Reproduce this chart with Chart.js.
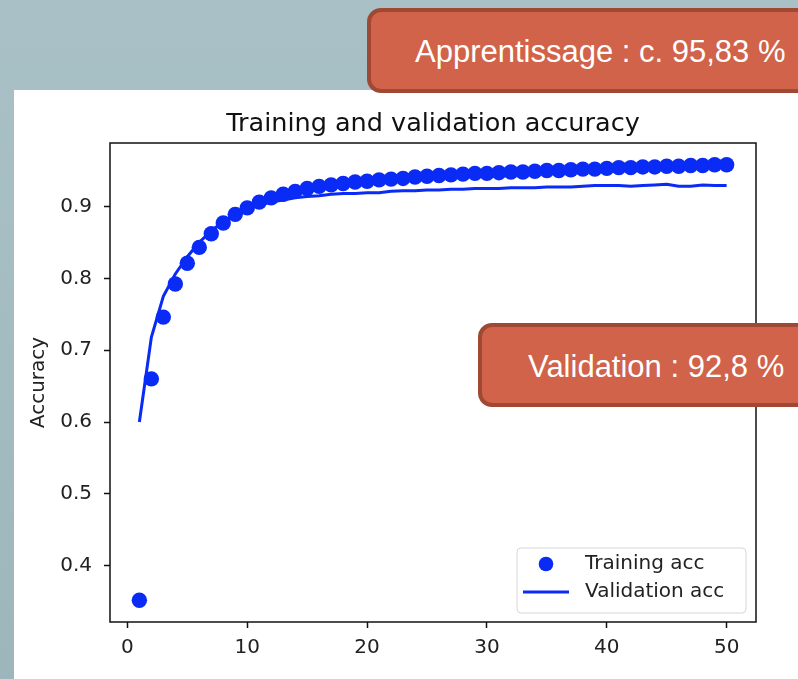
<!DOCTYPE html>
<html>
<head>
<meta charset="utf-8">
<script src="https://cdn.jsdelivr.net/npm/chart.js@4"></script>
<style>
  html, body { margin: 0; padding: 0; }
  body { width: 798px; height: 679px; overflow: hidden; position: relative;
         background: linear-gradient(180deg, #a9c1c6 0%, #a2bbc1 60%, #9db6bc 100%); }
  #panel { position: absolute; left: 14px; top: 90px; width: 800px; height: 600px; background: #fff; }
  #canvas { position: absolute; left: 0; top: 0; }
  .callout { position: absolute; box-sizing: border-box; background: #d0634a; border: 4px solid #9f4834;
             border-radius: 14px; color: #fff; font-family: 'Liberation Sans', Arial, sans-serif;
             font-size: 31px; display: flex; align-items: center; padding-top: 3px; white-space: nowrap; }
  #c1 { left: 367px; top: 8px; width: 460px; height: 85px; padding-left: 44px; }
  #c2 { left: 478px; top: 323px; width: 350px; height: 84px; padding-left: 46px; }
</style>
</head>
<body>
<div id="panel"></div>
<canvas id="canvas" width="798" height="679"></canvas>
<div class="callout" id="c1">Apprentissage : c. 95,83 %</div>
<div class="callout" id="c2">Validation : 92,8 %</div>
<script>
// accuracy per epoch
const epochs = [];
for (let i = 1; i <= 50; i++) epochs.push(i);

const trainAcc = [0.352, 0.660, 0.746, 0.792, 0.821, 0.843, 0.862, 0.877, 0.889, 0.898,
                  0.906, 0.912, 0.917, 0.921, 0.925, 0.928, 0.930, 0.932, 0.934, 0.935,
                  0.937, 0.938, 0.939, 0.941, 0.942, 0.943, 0.944, 0.945, 0.946, 0.946,
                  0.947, 0.948, 0.948, 0.949, 0.950, 0.950, 0.951, 0.952, 0.952, 0.953,
                  0.954, 0.954, 0.955, 0.955, 0.956, 0.956, 0.957, 0.957, 0.958, 0.958];

const valAcc = [0.600, 0.718, 0.775, 0.806, 0.830, 0.850, 0.866, 0.879, 0.889, 0.896,
                0.902, 0.906, 0.909, 0.912, 0.914, 0.915, 0.917, 0.918, 0.918, 0.919,
                0.919, 0.921, 0.922, 0.922, 0.923, 0.923, 0.924, 0.924, 0.925, 0.925,
                0.925, 0.926, 0.926, 0.926, 0.927, 0.927, 0.927, 0.928, 0.929, 0.929,
                0.929, 0.928, 0.929, 0.930, 0.931, 0.928, 0.928, 0.930, 0.929, 0.929];

const xTicks = [0, 10, 20, 30, 40, 50];
const yTicks = [0.4, 0.5, 0.6, 0.7, 0.8, 0.9];
const chartTitle = 'Training and validation accuracy';

const BLUE = '#0a2af5';
const FONT = 'DejaVu Sans';

// title centred on the axes, box around the plot + matplotlib style legend
const frame = {
  id: 'frame',
  afterDatasetsDraw(chart) {
    const ctx = chart.ctx, a = chart.chartArea;
    ctx.save();
    ctx.fillStyle = '#111';
    ctx.font = '25.5px ' + FONT;
    ctx.textAlign = 'center';
    ctx.textBaseline = 'alphabetic';
    ctx.fillText(chartTitle, (a.left + a.right) / 2, a.top - 12);
    ctx.textAlign = 'left';

    ctx.strokeStyle = '#111';
    ctx.lineWidth = 1.5;
    ctx.strokeRect(a.left, a.top, a.right - a.left, a.bottom - a.top);

    const w = 229, h = 65;
    const x = a.right - 10 - w, y = a.bottom - 9 - h;
    ctx.fillStyle = 'rgba(255,255,255,0.85)';
    ctx.strokeStyle = '#d6d6d6';
    ctx.lineWidth = 1;
    ctx.beginPath();
    ctx.roundRect(x, y, w, h, 4);
    ctx.fill();
    ctx.stroke();

    const ds = chart.data.datasets;
    ctx.font = '20px ' + FONT;
    ctx.textBaseline = 'middle';
    ds.forEach((d, i) => {
      const cy = y + 16 + i * 28;
      if (d.showLine === false) {
        ctx.fillStyle = d.pointBackgroundColor;
        ctx.beginPath();
        ctx.arc(x + 29, cy, 7.3, 0, Math.PI * 2);
        ctx.fill();
      } else {
        ctx.strokeStyle = d.borderColor;
        ctx.lineWidth = d.borderWidth;
        ctx.beginPath();
        ctx.moveTo(x + 6, cy);
        ctx.lineTo(x + 52, cy);
        ctx.stroke();
      }
      ctx.fillStyle = '#222';
      ctx.fillText(d.label, x + 68, cy);
    });
    ctx.restore();
  }
};

const ctx = document.getElementById('canvas').getContext('2d');
new Chart(ctx, {
  type: 'line',
  data: {
    datasets: [{
      label: 'Training acc',
      data: epochs.map((e, i) => ({x: e, y: trainAcc[i]})),
      showLine: false,
      pointRadius: 7.7,
      pointBackgroundColor: BLUE,
      pointBorderWidth: 0,
      borderColor: BLUE
    }, {
      label: 'Validation acc',
      data: epochs.map((e, i) => ({x: e, y: valAcc[i]})),
      borderColor: BLUE,
      borderWidth: 3,
      pointRadius: 0,
      tension: 0
    }]
  },
  options: {
    responsive: false,
    animation: false,
    layout: { padding: { left: 14, top: 143, right: 42, bottom: 0 } },
    plugins: {
      legend: { display: false },
      tooltip: { enabled: false },
      title: { display: false }
    },
    scales: {
      x: {
        type: 'linear',
        min: -1.45, max: 52.45,
        afterBuildTicks: s => { s.ticks = xTicks.map(v => ({value: v})); },
        afterFit: s => { s.height = 57; },
        border: { display: false },
        grid: { drawOnChartArea: false, drawTicks: true, tickLength: 6, tickWidth: 1.5, tickColor: '#111' },
        ticks: { color: '#222', padding: 8, font: { family: FONT, size: 20 } }
      },
      y: {
        min: 0.3217, max: 0.9883,
        afterBuildTicks: s => { s.ticks = yTicks.map(v => ({value: v})); },
        afterFit: s => { s.width = 96; },
        border: { display: false },
        grid: { drawOnChartArea: false, drawTicks: true, tickLength: 6, tickWidth: 1.5, tickColor: '#111' },
        ticks: { color: '#222', padding: 12, font: { family: FONT, size: 20 },
                 callback: v => v.toFixed(1) },
        title: { display: true, text: 'Accuracy', color: '#222',
                 font: { family: FONT, size: 20 }, padding: { top: 13, bottom: 0 } }
      }
    }
  },
  plugins: [frame]
});
</script>
</body>
</html>
